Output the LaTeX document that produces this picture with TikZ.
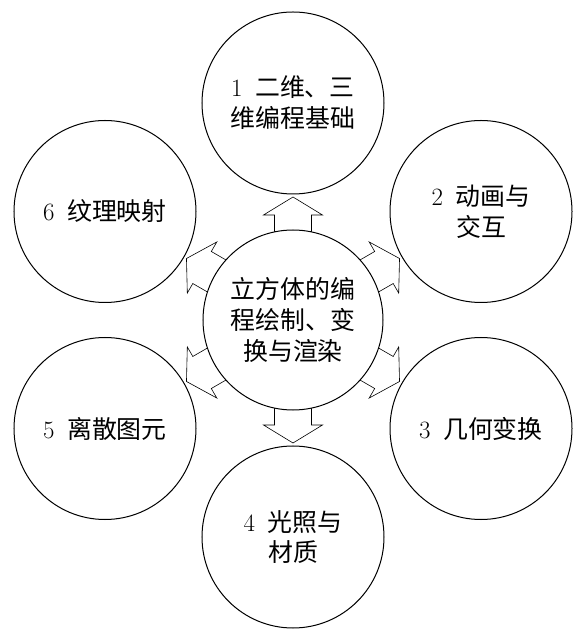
\documentclass[tikz,border=0pt]{standalone}
\usepackage{fontspec}
\newfontfamily\cjk{Noto Sans CJK SC}
\usetikzlibrary{positioning,calc,backgrounds}
\newcommand\dig[1]{\textrm{#1}\enspace}

\begin{document}
\begin{tikzpicture}[
  x=1bp, y=1bp,
  font=\cjk\fontsize{25}{31}\selectfont,
  topic/.style={circle, draw, line width=1bp, fill=white, minimum size=182bp,
                inner sep=0pt, align=center},
  hub/.style={topic, minimum size=180bp},
  blockarrow/.pic={
    \draw[line width=0.6bp, fill=white]
      (-20,-18.5) -- (1,-18.5) -- (1,-29.5) -- (19,0)
      -- (1,29.5) -- (1,18.5) -- (-20,18.5) -- cycle;
  },
]
  \useasboundingbox (-293,-310) rectangle (286,320);

  \node[hub]   (core) at (0,0)         {立方体的编\\程绘制、变\\换与渲染};
  \node[topic] (t1)   at (0,217)       {\dig{1}二维、三\\维编程基础};
  \node[topic] (t2)   at (188,108.5)   {\dig{2}动画与\\交互};
  \node[topic] (t3)   at (188,-108.5)  {\dig{3}几何变换};
  \node[topic] (t4)   at (0,-217)      {\dig{4}光照与\\材质};
  \node[topic] (t5)   at (-188,-108.5) {\dig{5}离散图元};
  \node[topic] (t6)   at (-188,108.5)  {\dig{6}纹理映射};

  % hollow arrows sit behind the circles
  \begin{scope}[on background layer]
    \pic[rotate=90]   (a1) at ($(core)!104bp!(t1)$) {blockarrow};
    \pic[rotate=30]   (a2) at ($(core)!104bp!(t2)$) {blockarrow};
    \pic[rotate=-30]  (a3) at ($(core)!104bp!(t3)$) {blockarrow};
    \pic[rotate=-90]  (a4) at ($(core)!104bp!(t4)$) {blockarrow};
    \pic[rotate=-150] (a5) at ($(core)!104bp!(t5)$) {blockarrow};
    \pic[rotate=150]  (a6) at ($(core)!104bp!(t6)$) {blockarrow};
  \end{scope}
\end{tikzpicture}
\end{document}
